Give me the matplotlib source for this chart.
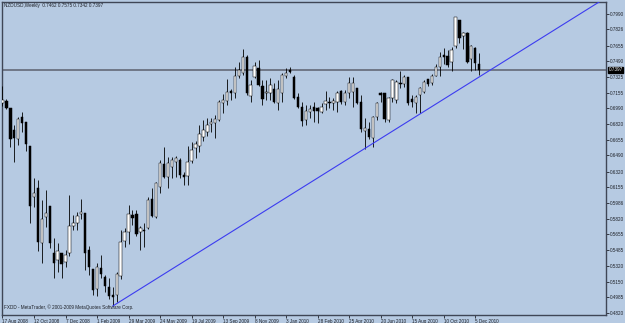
import numpy as np
import matplotlib
matplotlib.use('Agg')
import matplotlib.pyplot as plt
import matplotlib.transforms as mtransforms
from matplotlib import font_manager

# narrow font for the tiny MetaTrader labels, if there is one
names = set(f.name for f in font_manager.fontManager.ttflist)
if 'Liberation Sans Narrow' in names:
    plt.rcParams['font.family'] = ['Liberation Sans Narrow', 'DejaVu Sans']
    fs = 4.0
else:
    plt.rcParams['font.family'] = ['Liberation Sans', 'DejaVu Sans']
    fs = 3.3

# Weekly NZDUSD bars, 17 Aug 2008 .. 12 Dec 2010

bar_open = [0.7046, 0.7067, 0.6993, 0.6760, 0.6665, 0.6898, 0.6845, 0.6590, 0.6050, 0.6145,
            0.5562, 0.5838, 0.5954, 0.5456, 0.5382, 0.5456, 0.5361, 0.5456, 0.5742, 0.5774,
            0.5870, 0.5880, 0.5488, 0.5287, 0.5075, 0.5297, 0.5202, 0.5096, 0.5011, 0.5011,
            0.5212, 0.5583, 0.5679, 0.5859, 0.5870, 0.5679, 0.5700, 0.5721, 0.6029, 0.5838,
            0.6156, 0.6400, 0.6262, 0.6368, 0.6421, 0.6442, 0.6283, 0.6272, 0.6431, 0.6569,
            0.6590, 0.6686, 0.6739, 0.6824, 0.6834, 0.6866, 0.7046, 0.7067, 0.7173, 0.7152,
            0.7332, 0.7364, 0.7534, 0.7120, 0.7322, 0.7417, 0.7226, 0.7152, 0.7152, 0.7195,
            0.7046, 0.7152, 0.7332, 0.7396, 0.7322, 0.7110, 0.7004, 0.6866, 0.6951, 0.7004,
            0.6993, 0.6951, 0.7036, 0.7057, 0.7046, 0.7057, 0.7173, 0.7057, 0.7152, 0.7163,
            0.7205, 0.7057, 0.6749, 0.6771, 0.6675, 0.6898, 0.7152, 0.7152, 0.6866, 0.7099,
            0.7078, 0.7258, 0.7248, 0.7322, 0.7089, 0.7046, 0.7131, 0.7163, 0.7301, 0.7258,
            0.7332, 0.7428, 0.7555, 0.7544, 0.7481, 0.7650, 0.7926, 0.7756, 0.7788, 0.7513,
            0.7629, 0.7462]
bar_high = [0.7226, 0.7089, 0.6993, 0.6813, 0.6898, 0.6951, 0.6845, 0.6590, 0.6251, 0.6230,
            0.6018, 0.6124, 0.5954, 0.5615, 0.5562, 0.5456, 0.5488, 0.6071, 0.5859, 0.5891,
            0.6029, 0.5880, 0.5530, 0.5287, 0.5350, 0.5435, 0.5223, 0.5191, 0.5096, 0.5255,
            0.5700, 0.5721, 0.5965, 0.5912, 0.5912, 0.5742, 0.5774, 0.6050, 0.6145, 0.6209,
            0.6442, 0.6580, 0.6474, 0.6474, 0.6484, 0.6463, 0.6315, 0.6590, 0.6633, 0.6643,
            0.6813, 0.6866, 0.6887, 0.6887, 0.6919, 0.7078, 0.7142, 0.7301, 0.7195, 0.7428,
            0.7481, 0.7619, 0.7555, 0.7290, 0.7481, 0.7502, 0.7290, 0.7290, 0.7311, 0.7258,
            0.7290, 0.7364, 0.7417, 0.7428, 0.7343, 0.7152, 0.7057, 0.7025, 0.7025, 0.7057,
            0.7004, 0.7046, 0.7173, 0.7110, 0.7099, 0.7173, 0.7184, 0.7184, 0.7322, 0.7322,
            0.7205, 0.7131, 0.6887, 0.6845, 0.6908, 0.7057, 0.7163, 0.7152, 0.7110, 0.7301,
            0.7290, 0.7385, 0.7343, 0.7322, 0.7131, 0.7131, 0.7216, 0.7290, 0.7301, 0.7354,
            0.7460, 0.7587, 0.7629, 0.7608, 0.7640, 0.7958, 0.7926, 0.7799, 0.7799, 0.7661,
            0.7640, 0.7575]
bar_low = [0.7014, 0.6983, 0.6580, 0.6421, 0.6601, 0.6739, 0.6537, 0.5774, 0.5944, 0.5477,
           0.5350, 0.5732, 0.5509, 0.5191, 0.5255, 0.5191, 0.5308, 0.5424, 0.5700, 0.5700,
           0.5817, 0.5276, 0.5223, 0.5011, 0.5000, 0.5191, 0.5043, 0.4969, 0.4894, 0.4937,
           0.5181, 0.5520, 0.5552, 0.5753, 0.5636, 0.5488, 0.5520, 0.5711, 0.5838, 0.5827,
           0.6092, 0.6251, 0.6145, 0.6251, 0.6262, 0.6251, 0.6177, 0.6177, 0.6410, 0.6463,
           0.6527, 0.6643, 0.6696, 0.6739, 0.6675, 0.6855, 0.6940, 0.7025, 0.7078, 0.7099,
           0.7311, 0.7343, 0.7131, 0.7057, 0.7311, 0.7226, 0.7025, 0.7078, 0.7078, 0.7046,
           0.6972, 0.7057, 0.7311, 0.7364, 0.7089, 0.6993, 0.6802, 0.6813, 0.6887, 0.6845,
           0.6834, 0.6940, 0.6972, 0.6993, 0.6972, 0.6951, 0.7036, 0.7025, 0.7099, 0.7004,
           0.7036, 0.6739, 0.6559, 0.6665, 0.6580, 0.6866, 0.7057, 0.6845, 0.6845, 0.7057,
           0.7046, 0.7205, 0.7216, 0.7025, 0.7004, 0.6940, 0.6940, 0.7152, 0.7226, 0.7237,
           0.7332, 0.7332, 0.7460, 0.7428, 0.7385, 0.7629, 0.7682, 0.7619, 0.7470, 0.7385,
           0.7396, 0.7342]
bar_close = [0.7078, 0.6993, 0.6665, 0.6675, 0.6877, 0.6834, 0.6612, 0.5954, 0.6092, 0.5573,
             0.5817, 0.5880, 0.5562, 0.5350, 0.5477, 0.5340, 0.5435, 0.5742, 0.5774, 0.5848,
             0.5891, 0.5456, 0.5308, 0.5064, 0.5308, 0.5234, 0.5106, 0.5000, 0.4990, 0.5234,
             0.5573, 0.5679, 0.5870, 0.5827, 0.5658, 0.5721, 0.5689, 0.6018, 0.5848, 0.6198,
             0.6410, 0.6262, 0.6410, 0.6442, 0.6463, 0.6283, 0.6262, 0.6421, 0.6548, 0.6612,
             0.6718, 0.6760, 0.6813, 0.6845, 0.6877, 0.7057, 0.7078, 0.7163, 0.7152, 0.7332,
             0.7396, 0.7534, 0.7152, 0.7237, 0.7438, 0.7237, 0.7089, 0.7163, 0.7237, 0.7057,
             0.7195, 0.7343, 0.7364, 0.7375, 0.7099, 0.7004, 0.6855, 0.6961, 0.6983, 0.6961,
             0.6961, 0.7004, 0.7067, 0.7046, 0.7067, 0.7152, 0.7057, 0.7152, 0.7258, 0.7258,
             0.7046, 0.6771, 0.6781, 0.6686, 0.6898, 0.7046, 0.7131, 0.6877, 0.7099, 0.7290,
             0.7269, 0.7248, 0.7322, 0.7046, 0.7057, 0.7110, 0.7205, 0.7269, 0.7248, 0.7332,
             0.7428, 0.7534, 0.7534, 0.7449, 0.7608, 0.7958, 0.7735, 0.7788, 0.7481, 0.7650,
             0.7470, 0.7397]

# price scale labels on the right
price_ticks = [0.7990, 0.7826, 0.7655, 0.7490, 0.7325, 0.7155, 0.6990, 0.6820, 0.6655, 0.6490,
               0.6320, 0.6155, 0.5986, 0.5820, 0.5655, 0.5485, 0.5320, 0.5150, 0.4985, 0.4820]
last_price = 0.7397

# time labels every 8 weeks
date_ticks = [0, 8, 16, 24, 32, 40, 48, 56, 64, 72, 80, 88, 96, 104, 112, 120]
date_labels = ['17 Aug 2008', '12 Oct 2008', '7 Dec 2008', '1 Feb 2009', '29 Mar 2009',
               '24 May 2009', '19 Jul 2009', '13 Sep 2009', '8 Nov 2009', '3 Jan 2010',
               '28 Feb 2010', '25 Apr 2010', '20 Jun 2010', '15 Aug 2010', '10 Oct 2010',
               '5 Dec 2010']

# trend line anchors (bar index, price)
trend_start = (28, 0.4894)
trend_end = (121, 0.7322)

bg = '#b6cae2'
frame = '#3f4656'
txt = '#1e2128'

fig = plt.figure(figsize=(6.25, 3.23), dpi=100, facecolor=bg)
ax = fig.add_axes([1.7/625, 8/323, 604.3/625, 313.3/323], facecolor=bg)

x = np.arange(len(bar_open))
o = np.array(bar_open)
h = np.array(bar_high)
l = np.array(bar_low)
c = np.array(bar_close)

# wicks and bodies
ax.vlines(x, l, h, color='black', lw=0.6, zorder=3)
up = c >= o
ax.bar(x[up], c[up] - o[up], bottom=o[up], width=0.6, color='white',
       edgecolor='black', lw=0.35, zorder=4)
ax.bar(x[~up], o[~up] - c[~up], bottom=c[~up], width=0.6, color='black',
       edgecolor='black', lw=0.35, zorder=4)

# last price line
ax.axhline(last_price, color='#6a7180', lw=1.3, zorder=2)

# trend line, ray to the right
x_right = 153.2
slope = (trend_end[1] - trend_start[1]) / (trend_end[0] - trend_start[0])
ax.plot([trend_start[0], x_right],
        [trend_start[1], trend_start[1] + slope*(x_right - trend_start[0])],
        color='#3c3cf0', lw=0.8, zorder=5)

ax.set_xlim(-0.2, x_right)
ax.set_ylim(0.4799, 0.8120)

for s in ax.spines.values():
    s.set_color(frame)
    s.set_linewidth(1.0)

ax.yaxis.tick_right()
ax.set_yticks(price_ticks)
ax.set_yticklabels(['%.4f' % p for p in price_ticks])
ax.tick_params(axis='y', length=2, width=0.6, pad=1, labelsize=fs, colors=txt)

ax.set_xticks(date_ticks)
ax.set_xticklabels(date_labels, ha='left')
ax.tick_params(axis='x', length=2, width=0.6, pad=1, labelsize=fs, colors=txt)

# current price marker on the scale
tr = mtransforms.blended_transform_factory(ax.transAxes, ax.transData)
ax.text(1.004, last_price, '%.4f' % last_price, transform=tr, fontsize=fs,
        color='white', va='center', ha='left',
        bbox=dict(boxstyle='square,pad=0.15', facecolor='black', edgecolor='black'))

fig.text(4/625, 1 - 5/323, 'NZDUSD,Weekly  0.7462 0.7575 0.7342 0.7397',
         fontsize=fs, color=txt, va='center', ha='left')
fig.text(4/625, 1 - 307/323, 'FXDD - MetaTrader, \u00a9 2001-2009 MetaQuotes Software Corp.',
         fontsize=fs, color=txt, va='center', ha='left')

fig.savefig('out.png', dpi=100, facecolor=bg)
